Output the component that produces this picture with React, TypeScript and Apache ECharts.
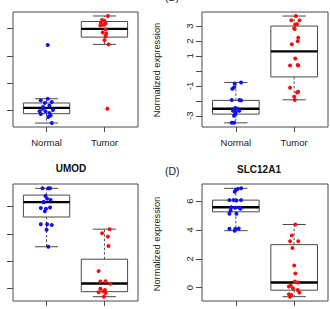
import { useEffect, useRef } from "react";
import * as echarts from "echarts";

const groups = ["Normal", "Tumor"];

// Panel (A): expression values and horizontal jitter per sample
const aNormal = [6.78, 2.87, 2.75, 2.63, 2.56, 2.38, 2.27, 2.14, 2.05, 1.95, 1.95, 1.83, 1.76, 1.64, 1.54, 1.1];
const aNormalJitter = [0.02, 0.02, -0.1, 0.09, -0.03, 0.05, -0.06, -0.07, 0.11, -0.02, -0.12, 0.05, -0.1, 0.07, 0.03, 0.09];
const aTumor = [8.9, 8.6, 8.55, 8.4, 8.35, 8.2, 8.25, 7.92, 7.7, 7.6, 7.43, 7.14, 6.83, 2.14];
const aTumorJitter = [0.06, -0.04, 0, -0.06, 0.02, -0.07, -0.01, 0.02, -0.03, 0.03, 0.02, 0, 0.07, 0.05];
// [lower whisker, Q1, median, Q3, upper whisker]
const aBoxes = [
  [1.1, 1.78, 2.2, 2.56, 2.87],
  [6.83, 7.36, 7.96, 8.5, 8.9],
];
const aTicks = [2, 4, 6, 8];

// Panel (B)
const bNormal = [-0.85, -0.77, -1.2, -1.1, -1.95, -1.97, -1.95, -2.47, -2.53, -2.67, -2.67, -2.74, -3.0, -2.9, -3.47, -3.47];
const bNormalJitter = [-0.02, 0.09, -0.06, -0.03, -0.07, 0.09, 0.06, -0.01, 0.03, 0.06, -0.05, 0, -0.03, -0.01, -0.07, -0.03];
const bTumor = [3.67, 3.38, 3.38, 3.13, 3.1, 2.85, 2.8, 2.22, 1.98, 1.78, 0.83, 0.36, 0.4, 0.36, -1.13, -1.39, -1.45, -1.73, -1.95];
const bTumorJitter = [0.03, -0.05, 0.09, 0.05, 0.02, 0, 0.01, 0.07, 0.06, -0.04, 0.02, -0.07, 0.06, 0.07, -0.07, 0.07, 0.05, 0, 0.01];
const bBoxes = [
  [-3.47, -2.89, -2.53, -1.97, -0.77],
  [-1.93, -0.4, 1.31, 3.0, 3.67],
];
const bTicks = [-3, -2, -1, 0, 1, 2, 3];
const bLabels = [-3, -1, 1, 2, 3];

// UMOD
const umodNormal = [9.36, 9.36, 9.36, 8.8, 8.6, 8.5, 8.34, 8.34, 7.9, 7.85, 7.95, 7.66, 6.7, 6.65, 6.7, 6.3, 5.04];
const umodNormalJitter = [-0.07, 0.03, 0.06, -0.02, 0.01, 0.07, -0.04, -0.06, -0.1, -0.01, 0.06, -0.03, -0.1, 0.09, 0.01, 0, 0.03];
const umodTumor = [6.34, 6.04, 5.79, 5.09, 3.24, 2.47, 2.49, 2.3, 1.93, 1.75, 1.67, 1.62, 1.35, 1.85];
const umodTumorJitter = [0.09, -0.04, 0.06, 0.07, -0.1, -0.07, 0.02, 0.1, -0.07, -0.02, -0.1, 0.02, -0.01, 0.01];
const umodBoxes = [
  [5.04, 7.24, 8.34, 8.86, 9.36],
  [1.35, 1.72, 2.32, 4.12, 6.34],
];
const umodTicks = [2, 4, 6, 8];

// SLC12A1
const slcNormal = [6.89, 6.77, 6.84, 6.65, 6.07, 6.07, 6.05, 6.07, 5.58, 5.54, 5.54, 5.47, 5.35, 5.12, 5.12, 4.08, 4.06, 4.1, 3.95];
const slcNormalJitter = [0.09, 0, 0.03, -0.02, -0.11, -0.04, 0.01, 0.09, -0.08, -0.01, 0.06, 0.08, -0.09, -0.11, 0.01, -0.11, -0.01, 0.05, -0.02];
const slcTumor = [4.38, 3.61, 3.21, 3.21, 2.75, 1.54, 0.98, 0.42, 0.35, 0.14, 0.07, -0.04, -0.16, -0.35, -0.46, -0.51, -0.63];
const slcTumorJitter = [0.02, -0.04, -0.07, 0.07, -0.03, 0, 0.02, 0.01, 0.06, -0.06, -0.09, -0.02, 0.06, 0.09, -0.09, -0.05, -0.07];
const slcBoxes = [
  [3.95, 5.26, 5.58, 6.07, 6.89],
  [-0.63, -0.18, 0.35, 2.98, 4.38],
];
const slcTicks = [0, 2, 4, 6];

const FONT = "'Liberation Sans', Arial, Helvetica, sans-serif";
const FRAME = "#4a4a4a";
const TEXT = "#222";

type Panel = {
  grid: { left: number; top: number; width: number; height: number };
  yMin: number;
  yMax: number;
  ticks: number[];
  labels: number[] | null;
  showX: boolean;
  normal: number[];
  normalJitter: number[];
  tumor: number[];
  tumorJitter: number[];
  boxes: number[][];
};

const panels: Panel[] = [
  {
    grid: { left: 13, top: 12, width: 125, height: 115 },
    yMin: 0.81, yMax: 9.19, ticks: aTicks, labels: null, showX: true,
    normal: aNormal, normalJitter: aNormalJitter, tumor: aTumor, tumorJitter: aTumorJitter, boxes: aBoxes,
  },
  {
    grid: { left: 202, top: 12, width: 126, height: 115 },
    yMin: -3.75, yMax: 3.94, ticks: bTicks, labels: bLabels, showX: true,
    normal: bNormal, normalJitter: bNormalJitter, tumor: bTumor, tumorJitter: bTumorJitter, boxes: bBoxes,
  },
  {
    grid: { left: 13, top: 184, width: 125, height: 117 },
    yMin: 1.03, yMax: 9.68, ticks: umodTicks, labels: null, showX: false,
    normal: umodNormal, normalJitter: umodNormalJitter, tumor: umodTumor, tumorJitter: umodTumorJitter, boxes: umodBoxes,
  },
  {
    grid: { left: 202, top: 184, width: 126, height: 117 },
    yMin: -0.93, yMax: 7.19, ticks: slcTicks, labels: slcTicks, showX: false,
    normal: slcNormal, normalJitter: slcNormalJitter, tumor: slcTumor, tumorJitter: slcTumorJitter, boxes: slcBoxes,
  },
];

// R-style box: dashed whiskers, half-width staples, open box, heavy median
const renderBox = (_params: any, api: any) => {
  const x = api.value(0);
  const lo = api.coord([x, api.value(1)]);
  const q1 = api.coord([x, api.value(2)]);
  const md = api.coord([x, api.value(3)]);
  const q3 = api.coord([x, api.value(4)]);
  const hi = api.coord([x, api.value(5)]);
  const w = api.size([0.8, 0])[0];
  const half = w / 2;
  const cap = w / 4;
  const cx = lo[0];
  const thin = { stroke: FRAME, lineWidth: 1, fill: "none" };
  return {
    type: "group",
    children: [
      { type: "line", shape: { x1: cx, y1: q3[1], x2: cx, y2: hi[1] }, style: { ...thin, lineDash: [2.5, 2] } },
      { type: "line", shape: { x1: cx, y1: q1[1], x2: cx, y2: lo[1] }, style: { ...thin, lineDash: [2.5, 2] } },
      { type: "line", shape: { x1: cx - cap, y1: hi[1], x2: cx + cap, y2: hi[1] }, style: thin },
      { type: "line", shape: { x1: cx - cap, y1: lo[1], x2: cx + cap, y2: lo[1] }, style: thin },
      { type: "rect", shape: { x: cx - half, y: q3[1], width: w, height: q1[1] - q3[1] }, style: thin },
      { type: "line", shape: { x1: cx - half, y1: md[1], x2: cx + half, y2: md[1] }, style: { stroke: "#000", lineWidth: 2.4 } },
    ],
  };
};

function buildOption() {
  const grid: any[] = [];
  const xAxis: any[] = [];
  const yAxis: any[] = [];
  const series: any[] = [];

  panels.forEach((p, i) => {
    grid.push({ ...p.grid, show: true, borderColor: FRAME, borderWidth: 1, backgroundColor: "transparent" });
    xAxis.push({
      type: "value",
      gridIndex: i,
      min: 0.42,
      max: 2.58,
      splitLine: { show: false },
      axisLine: { show: false, onZero: false },
      axisTick: { show: true, customValues: [1, 2], length: 5, lineStyle: { color: FRAME, width: 1 } },
      axisLabel: {
        show: p.showX,
        customValues: [1, 2],
        formatter: (v: number) => groups[Math.round(v) - 1] ?? "",
        margin: 10,
        fontSize: 9.5,
        color: TEXT,
        fontFamily: FONT,
      },
    });
    yAxis.push({
      type: "value",
      gridIndex: i,
      min: p.yMin,
      max: p.yMax,
      splitLine: { show: false },
      axisLine: { show: false, onZero: false },
      axisTick: { show: true, customValues: p.ticks, length: 6, lineStyle: { color: FRAME, width: 1 } },
      axisLabel: {
        show: !!p.labels,
        customValues: p.labels ?? [],
        rotate: 90,
        margin: 8,
        fontSize: 9.5,
        color: TEXT,
        fontFamily: FONT,
      },
    });
    series.push({
      type: "custom",
      xAxisIndex: i,
      yAxisIndex: i,
      renderItem: renderBox,
      encode: { x: 0, y: [1, 2, 3, 4, 5] },
      data: p.boxes.map((b, g) => [g + 1, ...b]),
      z: 2,
      silent: true,
    });
    series.push({
      type: "scatter",
      xAxisIndex: i,
      yAxisIndex: i,
      symbolSize: 4,
      itemStyle: { color: "#1010f0", opacity: 1 },
      data: p.normal.map((v, k) => [1 + p.normalJitter[k], v]),
      z: 3,
      silent: true,
    });
    series.push({
      type: "scatter",
      xAxisIndex: i,
      yAxisIndex: i,
      symbolSize: 4,
      itemStyle: { color: "#f01010", opacity: 1 },
      data: p.tumor.map((v, k) => [2 + p.tumorJitter[k], v]),
      z: 3,
      silent: true,
    });
  });

  const yTitle = (y: number) => ({
    type: "text",
    x: 157,
    y,
    rotation: Math.PI / 2,
    style: { text: "Normalized expression", font: `9.3px ${FONT}`, fill: TEXT, align: "center", verticalAlign: "middle" },
  });

  const graphic: any[] = [
    yTitle(70),
    yTitle(244),
    { type: "text", x: 165, y: -3.5, style: { text: "(B)", font: `10.5px ${FONT}`, fill: TEXT, align: "left", verticalAlign: "middle" } },
    { type: "text", x: 165, y: 171, style: { text: "(D)", font: `10.5px ${FONT}`, fill: TEXT, align: "left", verticalAlign: "middle" } },
    { type: "text", x: 71, y: 168, style: { text: "UMOD", font: `bold 10px ${FONT}`, fill: "#111", align: "center", verticalAlign: "middle" } },
    { type: "text", x: 259, y: 169, style: { text: "SLC12A1", font: `bold 10px ${FONT}`, fill: "#111", align: "center", verticalAlign: "middle" } },
  ];

  return { animation: false, backgroundColor: "#fff", grid, xAxis, yAxis, series, graphic };
}

export default function App() {
  const ref = useRef<HTMLDivElement>(null);
  useEffect(() => {
    if (!ref.current) return;
    const chart = echarts.init(ref.current, undefined, { renderer: "svg" });
    chart.setOption(buildOption() as any);
    return () => chart.dispose();
  }, []);
  return <div ref={ref} style={{ position: "fixed", left: 0, top: 0, width: 330, height: 309, background: "#fff" }} />;
}
